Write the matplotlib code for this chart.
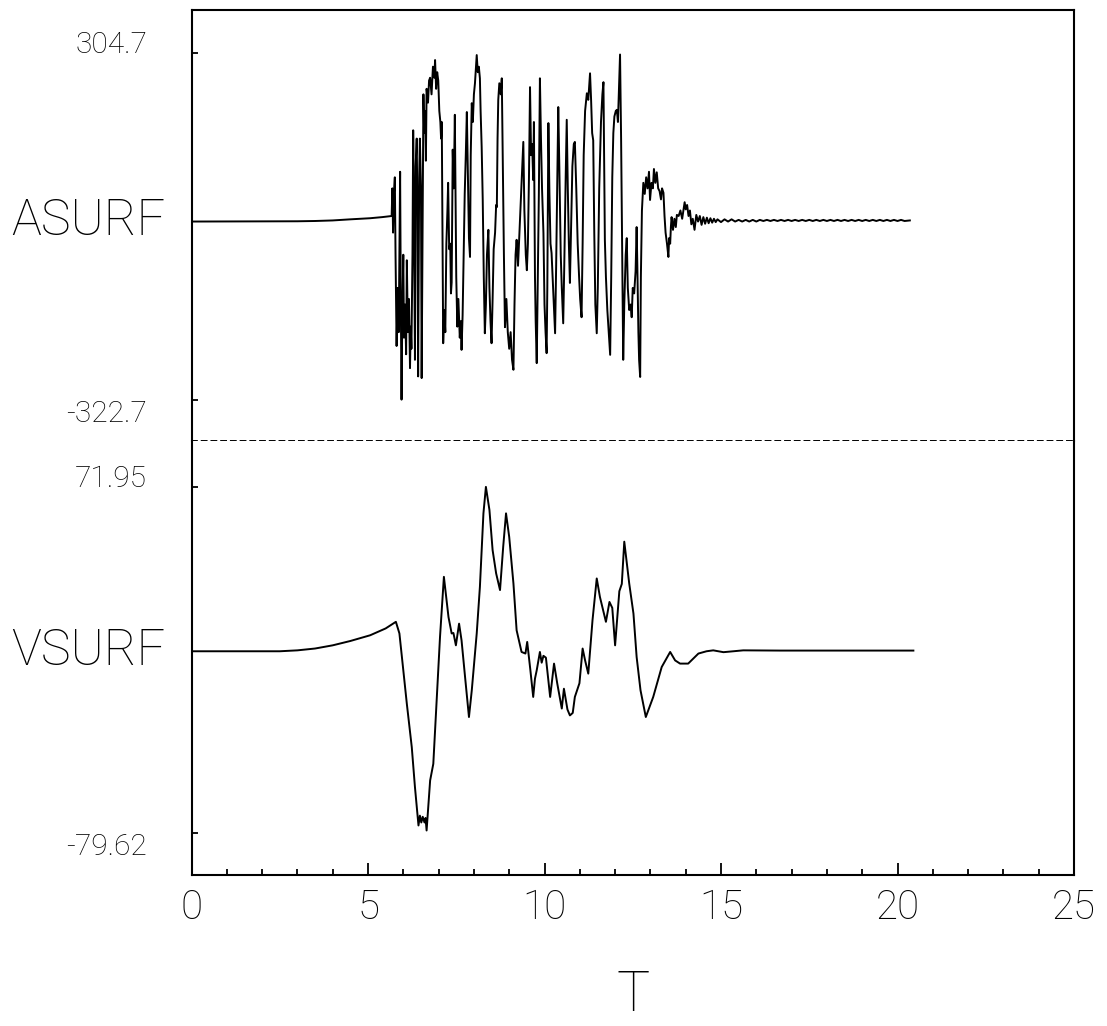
import matplotlib
matplotlib.use("Agg")
import matplotlib.pyplot as plt
from matplotlib.transforms import blended_transform_factory
from matplotlib.ticker import MultipleLocator

# ---------------- data ----------------
asurf_t = [0, 3.0, 3.5, 4.0, 4.5, 5.06, 5.4, 5.65,
           5.67, 5.69, 5.71, 5.73, 5.76, 5.78, 5.81, 5.84, 5.87, 5.91, 5.93, 5.95, 5.97,
           6.00, 6.02, 6.05, 6.08, 6.10, 6.13, 6.16, 6.19, 6.21, 6.23, 6.26, 6.28, 6.30,
           6.33, 6.35, 6.38, 6.40, 6.42, 6.45, 6.47, 6.50, 6.52, 6.55, 6.57, 6.59, 6.62,
           6.64, 6.66, 6.70, 6.73, 6.76, 6.80, 6.84, 6.88, 6.90, 6.93, 6.96, 6.99, 7.02,
           7.05, 7.07, 7.09, 7.11, 7.13, 7.16, 7.19, 7.22, 7.25, 7.27, 7.30, 7.33, 7.35,
           7.37, 7.40, 7.43, 7.46, 7.48, 7.50, 7.53, 7.56, 7.60, 7.63, 7.65, 7.68, 7.71,
           7.74, 7.77, 7.80, 7.83, 7.86, 7.89, 7.91, 7.94, 7.97, 8.00, 8.03, 8.05, 8.08,
           8.11, 8.14, 8.17, 8.19, 8.22, 8.25, 8.28, 8.31, 8.34, 8.37, 8.41, 8.44, 8.47,
           8.50, 8.53, 8.56, 8.60, 8.63, 8.65, 8.67, 8.69, 8.72, 8.76, 8.79, 8.82, 8.85,
           8.88, 8.92, 8.96, 9.00, 9.04, 9.08, 9.12, 9.15, 9.18, 9.21, 9.25, 9.29, 9.33,
           9.37, 9.40, 9.43, 9.47, 9.50, 9.53, 9.56, 9.59, 9.62, 9.65, 9.68, 9.70, 9.73,
           9.75, 9.78, 9.81, 9.84, 9.87, 9.90, 9.93, 9.97, 10.00, 10.03, 10.06, 10.08,
           10.11, 10.14, 10.17, 10.20, 10.23, 10.27, 10.30, 10.33, 10.36, 10.39, 10.42,
           10.46, 10.49, 10.53, 10.56, 10.60, 10.63, 10.66, 10.69, 10.72, 10.75, 10.79,
           10.83, 10.86, 10.90, 10.94, 10.98, 11.01, 11.05, 11.08, 11.11, 11.15, 11.20,
           11.24, 11.29, 11.32, 11.35, 11.38, 11.41, 11.44, 11.48, 11.51, 11.55, 11.60,
           11.64, 11.67, 11.69, 11.71, 11.74, 11.78, 11.82, 11.86, 11.89, 11.92, 11.95,
           11.98, 12.02, 12.05, 12.08, 12.11, 12.14, 12.17, 12.20, 12.23, 12.26, 12.30,
           12.33, 12.36, 12.40, 12.44, 12.47, 12.50, 12.54, 12.58, 12.61, 12.63, 12.66,
           12.68, 12.71, 12.73, 12.76, 12.80, 12.84, 12.88, 12.92, 12.96, 12.99, 13.03,
           13.07, 13.10, 13.14, 13.18, 13.22, 13.26, 13.30, 13.33, 13.37, 13.40, 13.43,
           13.47, 13.51, 13.53, 13.56, 13.58, 13.60, 13.64, 13.68, 13.72, 13.75, 13.80,
           13.85, 13.90, 13.93, 13.97, 14.00, 14.04, 14.08, 14.12, 14.16, 14.20, 14.25,
           14.30, 14.35, 14.40, 14.45, 14.50, 14.55, 14.60, 14.65, 14.70, 14.75, 14.80,
           14.85, 14.9, 15.0, 15.1, 15.2, 15.3, 15.4, 15.5, 15.6, 15.7, 15.8, 15.9, 16.0,
           16.1, 16.2, 16.3, 16.4, 16.5, 16.6, 16.7, 16.8, 16.9, 17.0, 17.1, 17.2, 17.3,
           17.4, 17.5, 17.6, 17.7, 17.8, 17.9, 18.0, 18.1, 18.2, 18.3, 18.4, 18.5, 18.6,
           18.7, 18.8, 18.9, 19.0, 19.1, 19.2, 19.3, 19.4, 19.5, 19.6, 19.7, 19.8, 19.9,
           20.0, 20.1, 20.2, 20.35]
asurf_v = [0, 0.5, 1, 2, 4, 6, 8, 10,
           10, 60, -20, 45, 80, -60, -225, -120, -200, 90, -150, -322, -180,
           -60, -210, -150, -240, -70, -200, -140, -265, -190, -230, -60, 165, 40,
           -250, 100, 150, 20, -280, 80, 150, 60, -283, 40, 230, 160, 200,
           110, 240, 215, 255, 260, 230, 280, 260, 292, 240, 270, 255, 200,
           180, 150, 180, -10, -220, -160, -200, -40, 20, 70, -50, -40, -130,
           -110, 130, 60, 193, 40, -100, -190, -140, -210, -180, -232, -170, -60,
           50, 120, 198, 80, -30, -64, 120, 214, 180, 230, 250, 270, 301,
           270, 280, 259, 200, 135, 40, -100, -202, -150, -60, -15, -120, -180,
           -220, -140, -50, -20, 30, 26, 150, 220, 250, 230, 259, 100, -60,
           -191, -140, -200, -230, -200, -250, -268, -150, -60, -33, -80, -20, 40,
           100, 144, 20, -60, -88, -40, 80, 243, 120, 140, 75, 180, -100,
           -180, -256, -100, 50, 259, 150, 60, -21, -150, -200, -238, -120,
           178, 50, -40, -57, -100, -160, -202, -80, 60, 207, 100,
           -60, -120, -184, -80, 80, 184, 60, -40, -111, -20, 100,
           140, 144, 60, -40, -100, -140, -173, -40, 120, 200, 232,
           220, 268, 220, 160, 147, -20, -150, -202, -120, 60, 180,
           230, 252, 100, -33, -100, -160, -200, -241, -100, 80, 160,
           190, 200, 202, 180, 240, 302, 150, -50, -250, -150, -60,
           -30, -120, -160, -150, -173, -120, -130, -90, -10, -80, -200,
           -250, -281, -100, 20, 70, 50, 80, 60, 90, 39, 70,
           60, 95, 70, 89, 60, 55, 40, 60, 52, 10, -20,
           -40, -64, -30, -40, -10, 8, -15, 5, -10, 12, 10,
           20, 5, 18, 35, 22, 30, 10, 20, -5, 5, -15,
           12, 0, 10, -6, 8, -4, 7, -3, 6, -2, 5,
           -1, 4, -1, 4, 0, 4, 0, 3, 0, 3, 0, 3, 0,
           3, 1, 3, 1, 3, 1, 3, 1, 3, 1, 3, 1, 3,
           1, 3, 1, 3, 1, 3, 1, 3, 1, 3, 1, 3, 1,
           3, 1, 3, 1, 3, 1, 3, 1, 3, 1, 3, 1, 3,
           1, 3, 1, 2]

vsurf_t = [0, 2.5, 3.0, 3.5, 4.0, 4.5, 5.06, 5.5, 5.79, 5.89, 6.00, 6.10, 6.24, 6.33,
           6.43, 6.47, 6.51, 6.55, 6.60, 6.63, 6.66, 6.76, 6.85, 7.04, 7.15, 7.28, 7.37,
           7.42, 7.49, 7.58, 7.65, 7.75, 7.86, 7.94, 8.08, 8.17, 8.27, 8.34, 8.44, 8.53,
           8.63, 8.74, 8.83, 8.91, 9.00, 9.12, 9.21, 9.35, 9.46, 9.51, 9.60, 9.68, 9.73,
           9.78, 9.87, 9.92, 9.97, 10.04, 10.16, 10.27, 10.36, 10.49, 10.55, 10.65, 10.72,
           10.80, 10.86, 10.99, 11.08, 11.15, 11.24, 11.36, 11.48, 11.57, 11.74, 11.84,
           11.92, 12.00, 12.12, 12.19, 12.26, 12.40, 12.52, 12.61, 12.72, 12.87, 13.08,
           13.32, 13.56, 13.70, 13.84, 14.07, 14.36, 14.59, 14.78, 15.07, 15.35, 15.63,
           16.67, 20.45]
vsurf_v = [0, 0, 0.4, 1.2, 2.6, 4.5, 7, 10, 12.9, 7.8, -8.3, -23, -42, -59.5,
           -76.3, -72, -75, -72.5, -75, -73, -78.5, -56.6, -49.3, 6.3, 32.6, 15, 7.8,
           8, 2.6, 12.1, 4.8, -11.3, -28.8, -17.1, 7.8, 28.2, 60.4, 72, 61.9, 44.3,
           34.1, 26.8, 45.8, 60.4, 50.1, 29.7, 9.2, -0.3, -1, 4.1, -8.3, -20, -12,
           -8.3, -0.3, -5, -2, -2.8, -20, -5.4, -14, -25.1, -16.4, -25.5, -28.1,
           -27, -20, -14, 1.2, -4, -9.8, 13.6, 31.9, 23.8, 12.9, 21.6,
           19, 2.6, 26.3, 29.5, 48, 29.7, 16.5, -2.5, -17.1, -28.8, -20,
           -6.9, -0.3, -4, -5.4, -5.4, -1, 0, 0.4, -0.4, 0, 0.4,
           0.3, 0.3]

panel_names = ["ASURF", "VSURF"]
asurf_labels = [304.7, -322.7]
vsurf_labels = [71.95, -79.62]
asurf_lim = (-396.8, 382.5)
vsurf_lim = (-98.0, 92.1)
x_major = [0, 5, 10, 15, 20, 25]
x_label = "T"

# ---------------- figure ----------------
plt.rcParams['font.family'] = ['Roboto', 'DejaVu Sans']
plt.rcParams['font.weight'] = 'light'

W, H = 1107, 1026
fig = plt.figure(figsize=(W / 100, H / 100), dpi=100)
L = 191.5 / W
AW = 882.5 / W
ax1 = fig.add_axes([L, 1 - 441 / H, AW, 431 / H])
ax2 = fig.add_axes([L, 1 - 875 / H, AW, 434 / H])

lw_frame = 1.5
for ax in (ax1, ax2):
    for s in ax.spines.values():
        s.set_linewidth(lw_frame)
        s.set_color('black')
    ax.set_xlim(0, 25)

ax1.plot(asurf_t, asurf_v, color='black', lw=1.4)
ax2.plot(vsurf_t, vsurf_v, color='black', lw=1.4)
ax1.set_ylim(*asurf_lim)
ax2.set_ylim(*vsurf_lim)

ax1.spines['bottom'].set_linestyle((0, (2.5, 2.5)))
ax1.spines['bottom'].set_linewidth(1.4)
ax2.spines['top'].set_visible(False)

# x axis
ax1.tick_params(axis='x', bottom=False, labelbottom=False)
ax2.set_xticks(x_major)
ax2.set_xticklabels([str(v) for v in x_major])
ax2.xaxis.set_minor_locator(MultipleLocator(1))
ax2.tick_params(axis='x', which='major', direction='in', length=9, width=1.3,
                labelsize=29, pad=10)
ax2.tick_params(axis='x', which='minor', direction='in', length=4.5, width=1.3)
ax2.set_xlabel(x_label, fontsize=40, fontweight='light', labelpad=30)

# y axis
for ax, labs, name in ((ax1, asurf_labels, panel_names[0]), (ax2, vsurf_labels, panel_names[1])):
    ax.set_yticks(labs)
    ax.set_yticklabels([])
    ax.tick_params(axis='y', direction='in', length=4.5, width=1.3, right=False)
    tr = blended_transform_factory(ax.transAxes, ax.transData)
    ax.text(-0.0505, labs[0], f"{labs[0]:g}", transform=tr, ha='right', va='baseline',
            fontsize=21.5)
    ax.text(-0.0505, labs[1], f"{labs[1]:g}", transform=tr, ha='right', va='top',
            fontsize=21.5)
    ax.text(-0.030, 0, name, transform=tr, ha='right', va='center', fontsize=36)

fig.savefig("out.png", dpi=100)
